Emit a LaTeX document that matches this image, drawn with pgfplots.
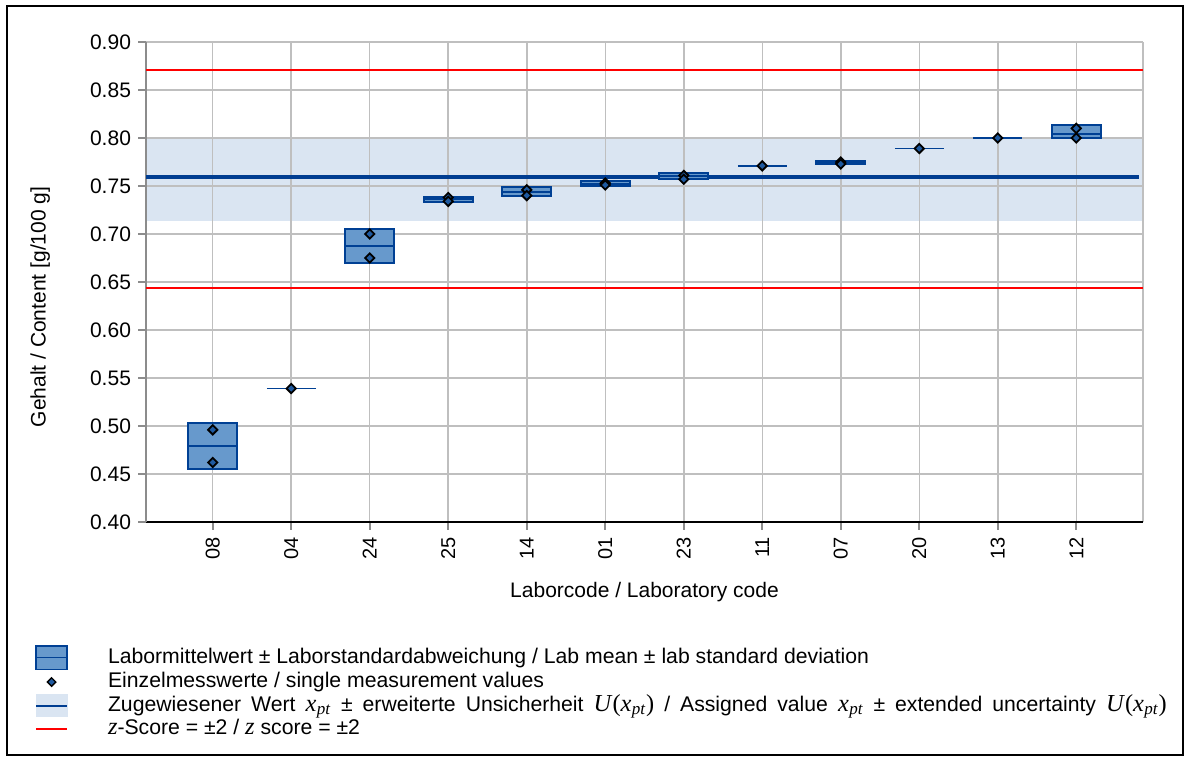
\documentclass[border=0pt]{standalone}
\usepackage{pgfplots}
\pgfplotsset{compat=1.18}
\usepackage{fontspec}
\setmainfont{Liberation Sans}
\newfontfamily\symfont[Scale=1.15]{Liberation Serif}

\definecolor{boxfill}{RGB}{103,153,204}
\definecolor{boxedge}{RGB}{0,64,148}
\definecolor{assigned}{RGB}{0,61,145}
\definecolor{bandcol}{RGB}{218,229,242}
\definecolor{gridgray}{RGB}{191,191,191}
\definecolor{axisgray}{RGB}{140,140,140}
\definecolor{markfill}{RGB}{31,90,160}

% symbols in the legend text
\newcommand\xpt{{\symfont\itshape x\kern0.2pt\textsubscript{pt}}}
\newcommand\Uxpt{{\symfont\itshape U\/\upshape(\itshape x\kern0.2pt\textsubscript{pt}\upshape)}}
\newcommand\zsym{{\symfont\itshape z}}

\pgfplotsset{
  labbox/.style={draw=boxedge, fill=boxfill, line width=1pt, forget plot},
  labmean/.style={draw=boxedge, line width=1pt, forget plot},
  single/.style={draw=boxedge, line width=0.8pt, forget plot},
}

\begin{document}
\begin{tikzpicture}
\path (0,0) rectangle (594.5pt,380pt);
\draw[line width=1pt] (3.5pt,2.5pt) rectangle (591.5pt,377pt);
\begin{axis}[
  set layers,
  at={(73pt,119pt)}, anchor=south west,
  scale only axis, width=498.5pt, height=240pt,
  xmin=-0.85, xmax=11.85, ymin=0.4, ymax=0.9,
  xtick={0,...,11},
  xticklabels={08,04,24,25,14,01,23,11,07,20,13,12},
  ytick={0.40,0.45,0.50,0.55,0.60,0.65,0.70,0.75,0.80,0.85,0.90},
  extra x ticks={11.85}, extra x tick labels={},
  extra x tick style={grid=major, major tick length=0pt},
  axis x line*=bottom, axis y line*=left,
  x axis line style={black, line width=1.2pt},
  y axis line style={axisgray, line width=1.1pt},
  tick align=outside, major tick length=4pt,
  tick style={axisgray, line width=0.8pt},
  grid=major, grid style={gridgray, line width=0.75pt},
  /pgf/number format/assume math mode=true,
  yticklabel style={/pgf/number format/fixed, /pgf/number format/fixed zerofill,
    /pgf/number format/precision=2, font=\fontsize{10.5}{12}\selectfont},
  xticklabel style={rotate=90, anchor=east, font=\fontsize{10}{12}\selectfont},
  xlabel={Laborcode / Laboratory code},
  ylabel={Gehalt / Content [g/100 g]},
  label style={font=\fontsize{10.5}{12}\selectfont},
  xlabel style={at={(axis description cs:0.5,-0.146)}, anchor=center},
  ylabel style={at={(axis description cs:-0.106,0.448)}, anchor=center, rotate=0},
  legend style={at={(axis description cs:-0.1113,-0.2563)}, anchor=north west,
    draw=none, fill=none, inner sep=0pt, outer sep=0pt, row sep=0pt,
    font=\fontsize{10.6}{12}\selectfont,
    nodes={inner xsep=0pt, inner ysep=0pt, text height=7.5pt, text depth=2pt}},
  legend cell align=left,
]
% assigned value band
\addplot[on layer=axis background, draw=none, fill=bandcol, forget plot]
  coordinates {(-0.85,0.7135) (11.85,0.7135) (11.85,0.799) (-0.85,0.799)} -- cycle;

% assigned value and z-score limits
\addplot[assigned, line width=2pt, forget plot] coordinates {(-0.85,0.759) (11.8,0.759)};
\addplot[red, line width=0.9pt, forget plot] coordinates {(-0.85,0.871) (11.85,0.871)};
\addplot[red, line width=0.9pt, forget plot] coordinates {(-0.85,0.644) (11.85,0.644)};

% lab mean +- lab standard deviation (boxes 0.62 wide)
\addplot[labbox] coordinates {(-0.31,0.4550) (0.31,0.4550) (0.31,0.5030) (-0.31,0.5030)} -- cycle;
\addplot[labbox] coordinates {(1.69,0.6698) (2.31,0.6698) (2.31,0.7052) (1.69,0.7052)} -- cycle;
\addplot[labbox] coordinates {(2.69,0.7332) (3.31,0.7332) (3.31,0.7388) (2.69,0.7388)} -- cycle;
\addplot[labbox] coordinates {(3.69,0.7395) (4.31,0.7395) (4.31,0.7488) (3.69,0.7488)} -- cycle;
\addplot[labbox] coordinates {(4.69,0.7495) (5.31,0.7495) (5.31,0.7550) (4.69,0.7550)} -- cycle;
\addplot[labbox] coordinates {(5.69,0.7578) (6.31,0.7578) (6.31,0.7636) (5.69,0.7636)} -- cycle;
\addplot[labbox] coordinates {(7.69,0.7726) (8.31,0.7726) (8.31,0.7760) (7.69,0.7760)} -- cycle;
\addplot[labbox] coordinates {(10.69,0.8003) (11.31,0.8003) (11.31,0.8139) (10.69,0.8139)} -- cycle;
% lab means
\addplot[labmean] coordinates {(-0.31,0.4790) (0.31,0.4790)};
\addplot[labmean] coordinates {(1.69,0.6875) (2.31,0.6875)};
\addplot[labmean] coordinates {(2.69,0.7360) (3.31,0.7360)};
\addplot[labmean] coordinates {(3.69,0.7440) (4.31,0.7440)};
\addplot[labmean] coordinates {(4.69,0.7522) (5.31,0.7522)};
\addplot[labmean] coordinates {(5.69,0.7607) (6.31,0.7607)};
\addplot[labmean] coordinates {(7.69,0.7743) (8.31,0.7743)};
\addplot[labmean] coordinates {(10.69,0.8040) (11.31,0.8040)};
% labs with a single value
\addplot[single] coordinates {(0.69,0.539) (1.31,0.539)};
\addplot[single] coordinates {(6.69,0.771) (7.31,0.771)};
\addplot[single] coordinates {(8.69,0.789) (9.31,0.789)};
\addplot[single] coordinates {(9.69,0.800) (10.31,0.800)};

% single measurement values
\addplot[only marks, mark=square*, mark size=1.65pt,
  mark options={rotate=45, fill=markfill, draw=black, line width=0.9pt}, forget plot]
  coordinates {
  (0,0.496) (0,0.462)
  (1,0.539)
  (2,0.700) (2,0.675)
  (3,0.738) (3,0.734)
  (4,0.746) (4,0.740)
  (5,0.753) (5,0.751)
  (6,0.761) (6,0.757)
  (7,0.771)
  (8,0.775) (8,0.773)
  (9,0.789)
  (10,0.800)
  (11,0.810) (11,0.800)
  };

% legend entries
\addlegendimage{legend image code/.code={
  \path[draw=none, fill=none] (0pt,-5.9pt) rectangle (36pt,5.9pt);
  \draw[draw=boxedge, fill=boxfill, line width=0.8pt] (0pt,-5.9pt) rectangle (15.5pt,5.9pt);
  \draw[boxedge, line width=0.8pt] (0pt,0pt) -- (15.5pt,0pt);}}
\addlegendentry{Labormittelwert ± Laborstandardabweichung / Lab mean ± lab standard deviation}
\addlegendimage{legend image code/.code={
  \path[draw=none, fill=none] (0pt,-5.9pt) rectangle (36pt,5.9pt);
  \draw[mark=square*, mark size=1.5pt, mark options={rotate=45, fill=markfill, draw=black, line width=0.7pt}]
    plot coordinates {(7.75pt,0pt)};}}
\addlegendentry{Einzelmesswerte / single measurement values}
\addlegendimage{legend image code/.code={
  \path[draw=none, fill=none] (0pt,-5.9pt) rectangle (36pt,5.9pt);
  \fill[bandcol] (0pt,-5.5pt) rectangle (15.5pt,5.5pt);
  \draw[assigned, line width=1pt] (0pt,0pt) -- (15.5pt,0pt);}}
\addlegendentry{\spaceskip=5pt\relax Zugewiesener Wert \xpt{} ± erweiterte Unsicherheit \Uxpt{} / Assigned value \xpt{} ± extended uncertainty \Uxpt}
\addlegendimage{legend image code/.code={
  \path[draw=none, fill=none] (0pt,-5.9pt) rectangle (36pt,5.9pt);
  \draw[red, line width=1pt] (0pt,0pt) -- (15.5pt,0pt);}}
\addlegendentry{\zsym-Score = ±2 / \zsym{} score = ±2}
\end{axis}
\end{tikzpicture}
\end{document}
